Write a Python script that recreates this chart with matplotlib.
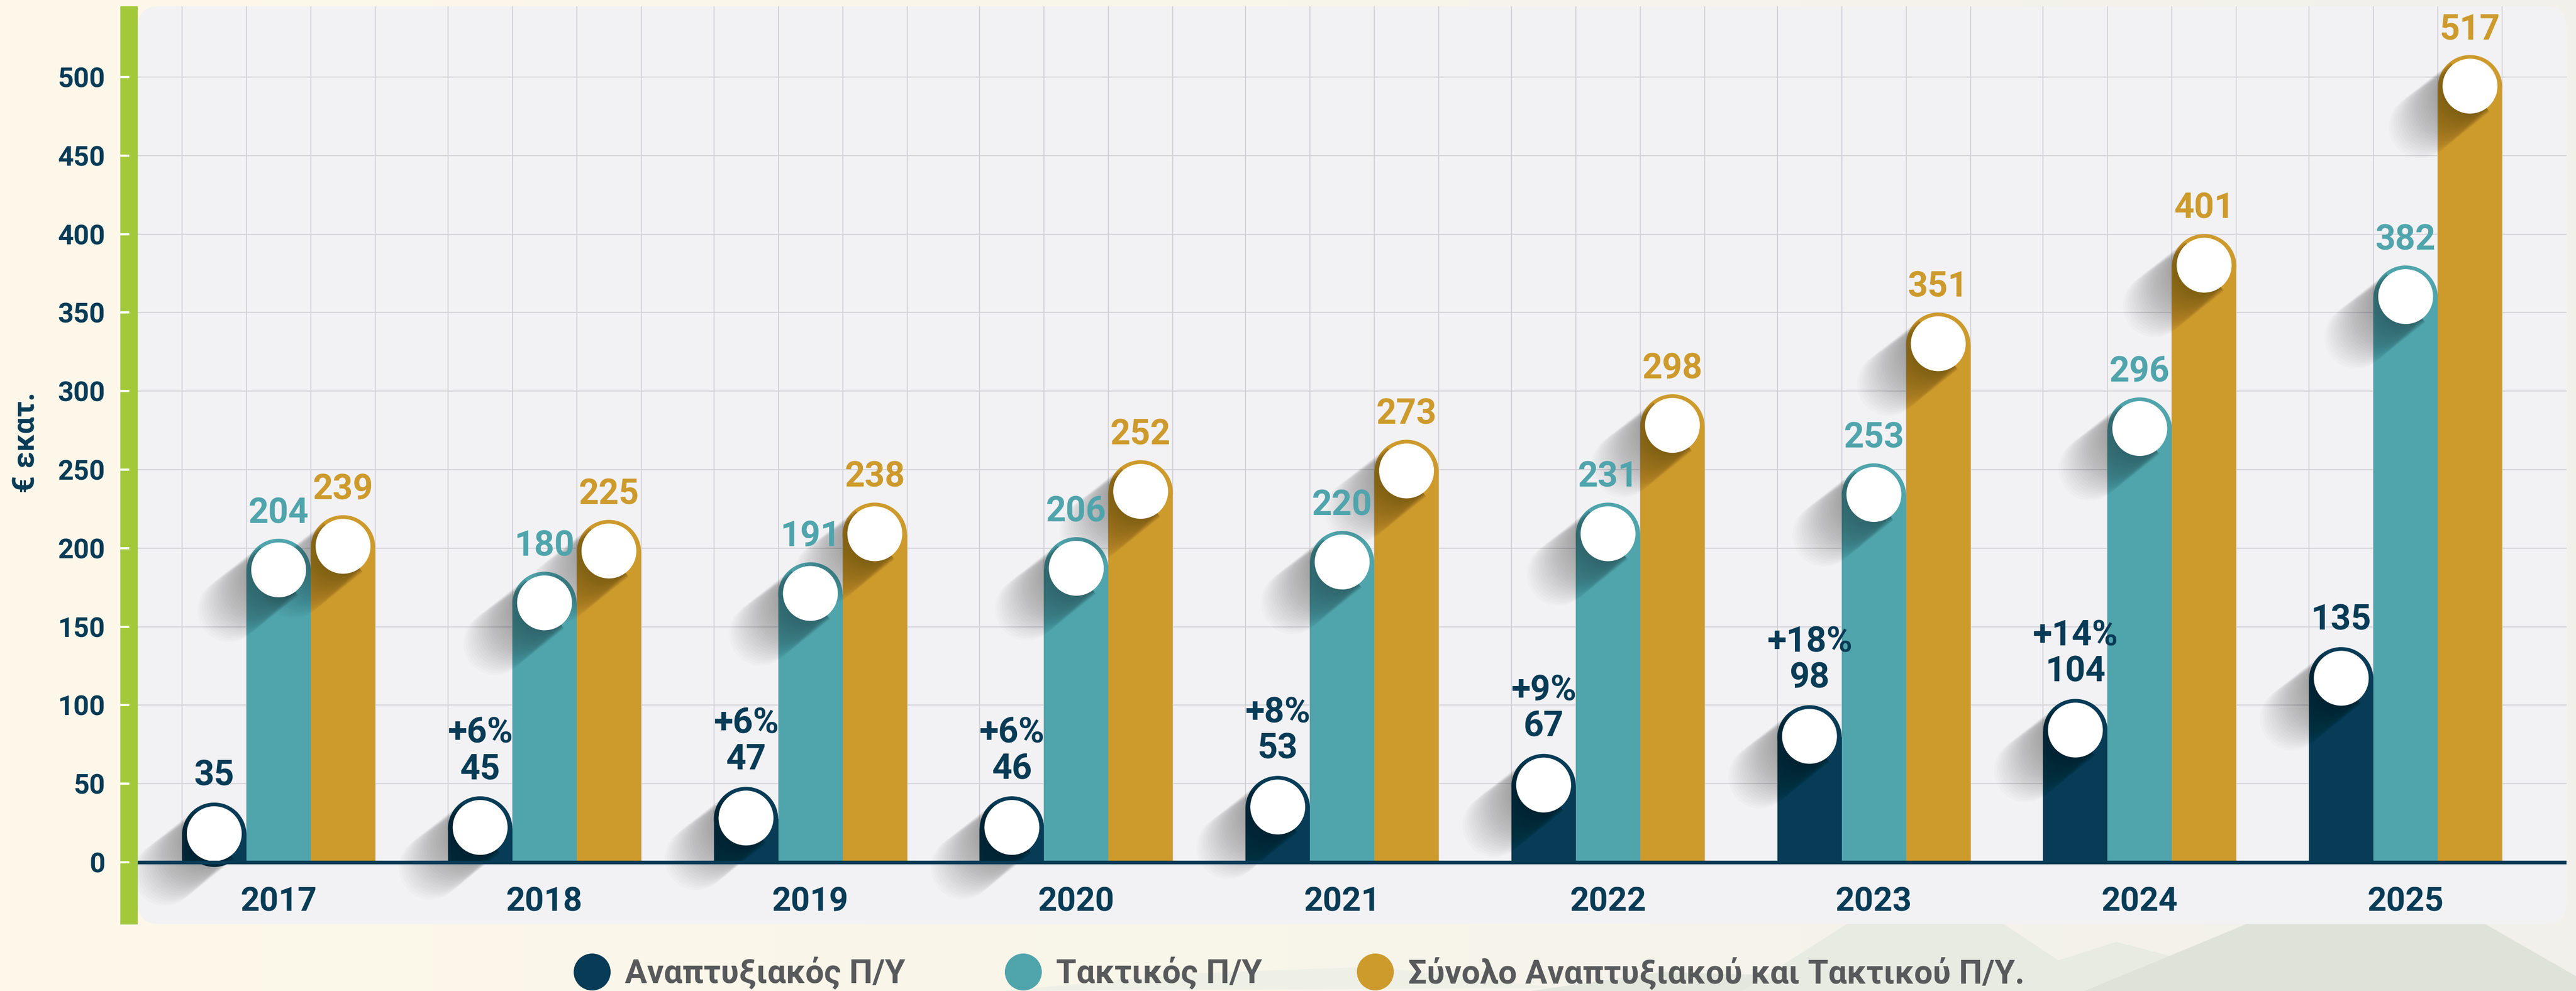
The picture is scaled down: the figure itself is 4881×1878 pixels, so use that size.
import matplotlib
matplotlib.use('Agg')
import matplotlib.pyplot as plt
from matplotlib.patches import Ellipse, Polygon, Rectangle, Circle, FancyBboxPatch
from matplotlib.colors import LinearSegmentedColormap
import numpy as np

plt.rcParams['font.family'] = ['Roboto', 'DejaVu Sans']

# ---- data ----
years = ['2017', '2018', '2019', '2020', '2021', '2022', '2023', '2024', '2025']
dev_values = [35, 45, 47, 46, 53, 67, 98, 104, 135]          # Αναπτυξιακός Π/Υ
reg_values = [204, 180, 191, 206, 220, 231, 253, 296, 382]   # Τακτικός Π/Υ
total_values = [239, 225, 238, 252, 273, 298, 351, 401, 517]  # Σύνολο
dev_change = ['', '+6%', '+6%', '+6%', '+8%', '+9%', '+18%', '+14%', '']
# heights the bars are actually drawn at in the infographic
dev_heights = [38, 42, 48, 42, 55, 69, 100, 104, 137]
reg_heights = [206, 185, 191, 207, 211, 229, 254, 296, 380]
total_heights = [221, 218, 229, 256, 269, 298, 350, 400, 514]
legend_labels = ['Αναπτυξιακός Π/Υ', 'Τακτικός Π/Υ', 'Σύνολο Αναπτυξιακού και Τακτικού Π/Υ.']
y_ticks = list(range(0, 501, 50))

navy = '#073b56'
teal = '#50a4ac'
gold = '#cd9a2c'
green = '#a3c93b'
grid_col = '#d4d4d9'
legend_grey = '#58595b'

W, H = 4881, 1878
fig = plt.figure(figsize=(W / 100, H / 100), dpi=100)

# ---- background layer in pixel coordinates ----
bg = fig.add_axes([0, 0, 1, 1])
bg.set_xlim(0, W)
bg.set_ylim(H, 0)
bg.axis('off')
cmap = LinearSegmentedColormap.from_list('bg', ['#fdf8e9', '#f8f5ea', '#f1f0ea'])
bg.imshow(np.linspace(0, 1, 256)[None, :], extent=[0, W, H, 0], cmap=cmap, aspect='auto', zorder=0)

# faint mountains behind the legend
bg.add_patch(Polygon([(1900, 1878), (2250, 1845), (2600, 1832), (2950, 1872)], fc='#eef0e6', ec='none', zorder=1))
bg.add_patch(Polygon([(2900, 1878), (3150, 1842), (3420, 1850), (3520, 1878)], fc='#e4e7dd', ec='none', zorder=1))
bg.add_patch(Polygon([(3300, 1878), (3580, 1700), (3720, 1700), (3900, 1820), (4010, 1785),
                      (4190, 1832), (4320, 1878)], fc='#e7ebe2', ec='none', zorder=1))
bg.add_patch(Polygon([(3950, 1878), (4380, 1700), (4620, 1700), (4881, 1850), (4881, 1878)],
                     fc='#dfe2d8', ec='none', zorder=1))

# plot panel and green bar
bg.add_patch(FancyBboxPatch((261, 12), 4863 - 261, 1751 - 12, boxstyle='round,pad=0,rounding_size=40',
                            fc='#f2f2f4', ec='none', zorder=2))
bg.add_patch(Rectangle((228, 12), 33, 1740, fc=green, ec='none', zorder=3))

bg.text(50, 839, '€ εκατ.', rotation=90, ha='center', va='center', fontsize=41,
        fontweight='bold', color=navy, zorder=4)

# legend
leg_x = [1122, 1939, 2606]
for lx, col, lab in zip(leg_x, [navy, teal, gold], legend_labels):
    bg.add_patch(Circle((lx, 1842), 35, fc=col, ec='none', zorder=4))
    bg.text(lx + 62, 1863, lab, ha='left', va='baseline', fontsize=45, fontweight='bold',
            color=legend_grey, zorder=4)

# ---- chart axes ----
x0, x1 = -0.530, 8.605
y0, y1 = -39.3, 545
ax = fig.add_axes([261 / W, (H - 1751) / H, (4863 - 261) / W, (1751 - 12) / H])
ax.patch.set_visible(False)
ax.set_xlim(x0, x1)
ax.set_ylim(y0, y1)
for s in ax.spines.values():
    s.set_visible(False)

px_x = (4863 - 261) / (x1 - x0)   # pixels per x unit
px_y = (1751 - 12) / (y1 - y0)    # pixels per y unit

x = np.arange(len(years))
w = 122 / px_x
offsets = [-w, 0, w]

# grid
ax.hlines(y_ticks[1:], x0, x1, color=grid_col, lw=1.5, zorder=0.5)
edges = np.concatenate([x - 1.5 * w, x - 0.5 * w, x + 0.5 * w, x + 1.5 * w])
ax.vlines(edges, 0, y1, color=grid_col, lw=1.5, zorder=0.5)

ax.set_xticks([])
ax.set_yticks(y_ticks)
ax.set_yticklabels([str(v) for v in y_ticks], fontweight='bold')
ax.tick_params(axis='y', length=0, pad=44.5, labelsize=37.5, labelcolor=navy)
ax.hlines(y_ticks, -0.0072, -0.0035, transform=ax.get_yaxis_transform(), color='white',
          lw=3, clip_on=False, zorder=6)


def cap_shadow(xc, yc):
    # soft long shadow falling down-left from the round bar top
    d = np.array([-0.78, -0.62])
    d = d / np.linalg.norm(d)
    n = np.array([d[1], -d[0]])
    a0 = np.arctan2(n[1], n[0])
    steps = 24
    for k in range(1, steps + 1):
        L = 120 * k / steps
        rs = 50 + 10 * k / steps
        arc = np.linspace(a0, a0 + np.pi, 24)
        pts = [rs * n] + [L * d + rs * np.array([np.cos(a), np.sin(a)]) for a in arc] + [-rs * n]
        pts = [(xc + p[0] / px_x, yc + p[1] / px_y) for p in pts]
        ax.add_patch(Polygon(pts, closed=True, fc='black', ec='none', alpha=0.014, zorder=3))


ry = 61 / px_y
for off, heights, col in zip(offsets, [dev_heights, reg_heights, total_heights], [navy, teal, gold]):
    hs = np.array(heights, dtype=float)
    xs = x + off
    ax.bar(xs, hs - ry, width=w, color=col, zorder=2, linewidth=0)
    for xi, hi in zip(xs, hs):
        ax.add_patch(Ellipse((xi, hi - ry), w, 2 * ry, fc=col, ec='none', zorder=2))
        cap_shadow(xi, hi - ry)
        ax.add_patch(Ellipse((xi, hi - ry + 2 / px_y), 104 / px_x, 104 / px_y, fc='white',
                             ec='none', zorder=4))

ax.axhline(0, color=navy, lw=5, zorder=5)

# value labels
for i in range(len(years)):
    ax.text(x[i] - w, dev_heights[i] + 11, str(dev_values[i]), ha='center', va='baseline',
            fontsize=48, fontweight='bold', color=navy, zorder=7)
    if dev_change[i]:
        ax.text(x[i] - w, dev_heights[i] + 34, dev_change[i], ha='center', va='baseline',
                fontsize=48, fontweight='bold', color=navy, zorder=7)
    ax.text(x[i], reg_heights[i] + 10, str(reg_values[i]), ha='center', va='baseline',
            fontsize=48, fontweight='bold', color=teal, zorder=7)
    ax.text(x[i] + w, total_heights[i] + 10, str(total_values[i]), ha='center', va='baseline',
            fontsize=48, fontweight='bold', color=gold, zorder=7)
    ax.text(x[i], -31, years[i], ha='center', va='baseline', fontsize=45.5,
            fontweight='bold', color=navy, zorder=7)

fig.savefig('out.png', dpi=100)
